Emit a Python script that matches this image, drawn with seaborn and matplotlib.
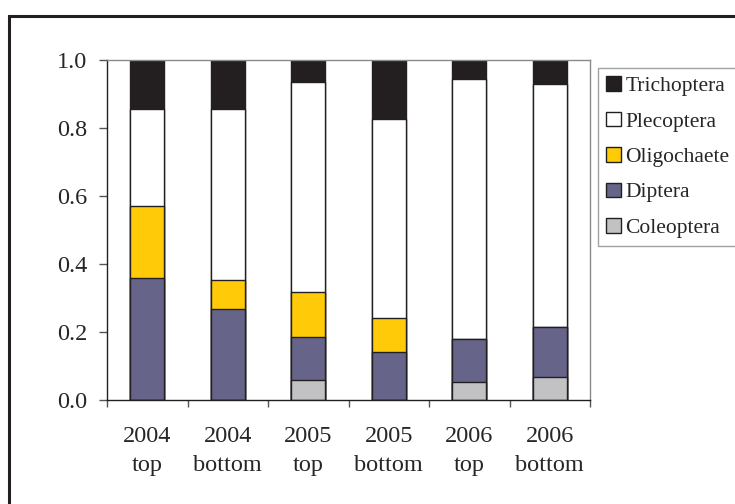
import numpy as np
import pandas as pd
import matplotlib
matplotlib.use("Agg")
import matplotlib.pyplot as plt
from matplotlib.patches import Patch, Rectangle
import seaborn as sns

# sample groups (year / position in stream)
samples = ["2004\ntop", "2004\nbottom", "2005\ntop", "2005\nbottom", "2006\ntop", "2006\nbottom"]

# proportion of each taxon (bottom -> top)
coleoptera = [0.0, 0.0, 0.060, 0.0, 0.052, 0.068]
diptera = [0.357, 0.268, 0.125, 0.140, 0.128, 0.145]
oligochaete = [0.213, 0.084, 0.132, 0.102, 0.0, 0.0]
plecoptera = [0.285, 0.503, 0.617, 0.582, 0.763, 0.714]
trichoptera = [0.145, 0.145, 0.066, 0.176, 0.057, 0.073]

taxa = ["Coleoptera", "Diptera", "Oligochaete", "Plecoptera", "Trichoptera"]
colors = ["#c2c2c4", "#666488", "#ffcb08", "#ffffff", "#231f20"]


def build_table():
    df = pd.DataFrame({
        "sample": samples,
        "Coleoptera": coleoptera,
        "Diptera": diptera,
        "Oligochaete": oligochaete,
        "Plecoptera": plecoptera,
        "Trichoptera": trichoptera,
    })
    # cumulative heights so each layer can be drawn over the one above it
    cum = df[taxa].cumsum(axis=1)
    cum["sample"] = df["sample"]
    return cum


def main():
    sns.set_style("white")
    plt.rcParams["font.family"] = ["Liberation Serif", "DejaVu Serif"]

    cum = build_table()

    fig = plt.figure(figsize=(7.35, 5.04), dpi=100)
    ax = fig.add_axes([107 / 735, 1 - 400 / 504, 483 / 735, 340.5 / 504])

    edge = "#231f20"
    # tallest layer first, then the shorter ones on top
    for taxon, col in zip(reversed(taxa), reversed(colors)):
        sns.barplot(data=cum, x="sample", y=taxon, order=samples, color=col,
                    width=0.42, edgecolor=edge, linewidth=1.0,
                    errorbar=None, saturation=1, ax=ax)

    ax.set_ylim(0, 1.0)
    ax.set_xlim(-0.5, len(samples) - 0.5)
    ax.set_yticks(np.arange(0, 1.01, 0.2))
    ax.set_yticklabels([f"{v:.1f}" for v in np.arange(0, 1.01, 0.2)])
    ax.set_xlabel("")
    ax.set_ylabel("")

    # category labels centred, tick marks on the boundaries
    ax.set_xticks(np.arange(-0.5, len(samples), 1.0), minor=False)
    ax.set_xticklabels([""] * (len(samples) + 1))
    ax.set_xticks(np.arange(len(samples)), minor=True)
    ax.set_xticklabels(samples, minor=True, fontsize=17.5, linespacing=1.5)
    ax.tick_params(axis="x", which="major", direction="out", length=5,
                   width=1.0, color="#555555", bottom=True)
    ax.tick_params(axis="x", which="minor", length=0, pad=19)
    ax.tick_params(axis="y", direction="out", length=6, width=1.0,
                   color="#555555", left=True, labelsize=17.5, pad=8)

    for side in ["left", "bottom"]:
        ax.spines[side].set_color("#231f20")
        ax.spines[side].set_linewidth(1.0)
    for side in ["top", "right"]:
        ax.spines[side].set_color("#8a8a8a")
        ax.spines[side].set_linewidth(1.0)

    handles = [Patch(facecolor=c, edgecolor=edge, linewidth=1.0, label=t)
               for t, c in zip(reversed(taxa), reversed(colors))]
    leg = fig.legend(handles=handles, loc="upper left",
                     bbox_to_anchor=(598 / 735, 1 - 68 / 504),
                     frameon=True, fancybox=False, fontsize=15.5,
                     handlelength=0.68, handleheight=0.68, handletextpad=0.2,
                     labelspacing=0.72, borderpad=0.38, borderaxespad=0)
    leg.get_frame().set_edgecolor("#8a8a8a")
    leg.get_frame().set_linewidth(1.0)

    # outer chart frame, running off the right and bottom of the image
    fig.patches.append(Rectangle((9 / 735, -0.2), 1.2, 1.2 - 16 / 504,
                                 transform=fig.transFigure, fill=False,
                                 edgecolor="#231f20", linewidth=2.2))

    fig.savefig("out.png", dpi=100)


if __name__ == "__main__":
    main()
